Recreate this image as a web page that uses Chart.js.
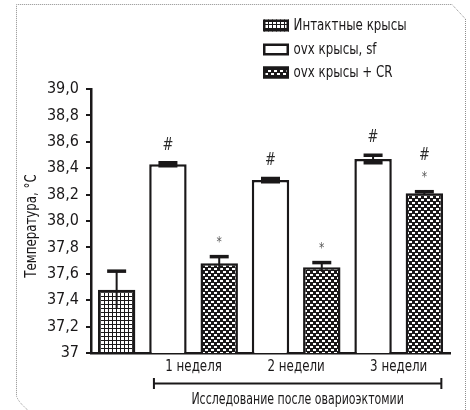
<!DOCTYPE html>
<html>
<head>
<meta charset="utf-8">
<script src="https://cdn.jsdelivr.net/npm/chart.js@4/dist/chart.umd.min.js"></script>
<style>
  html, body { margin: 0; padding: 0; background: #ffffff; }
  canvas { display: block; }
</style>
</head>
<body>
<canvas id="chart" width="470" height="410"></canvas>
<script>
// ---- data ----
const intactLabel = 'Интактные крысы';
const weekLabels = ['1 неделя', '2 недели', '3 недели'];
const seriesNames = ['Интактные крысы', 'ovx крысы, sf', 'ovx крысы + CR'];
const intactMean = [37.48];
const intactSem = [0.14];
const sfMean = [38.43, 38.31, 38.47];
const sfSem = [0.012, 0.012, 0.029];
const crMean = [37.68, 37.65, 38.21];
const crSem = [0.05, 0.035, 0.012];
const intactMarks = [[]];
const sfMarks = [['#'], ['#'], ['#']];
const crMarks = [['*'], ['*'], ['*', '#']];
const yMin = 37, yMax = 39, yStep = 0.2;
const yTitle = 'Температура, °C';
const xTitle = 'Исследование после овариоэктомии';

const INK = '#1a1819';
const FONT = "'Liberation Sans Narrow', 'Arial Narrow', 'DejaVu Sans Condensed', sans-serif";

// one slot per bar: intact first, then an sf / CR pair for every week
const slots = [intactLabel];
weekLabels.forEach(w => slots.push(w + ' sf', w + ' CR'));
function spread(vals, first, step) {
  return slots.map((_, i) => {
    const k = i - first;
    if (k < 0 || k % step !== 0) return null;
    const j = k / step;
    return j < vals.length ? vals[j] : null;
  });
}

// ---- fill patterns ----
function makePattern(w, h, paint) {
  const c = document.createElement('canvas');
  c.width = w; c.height = h;
  const g = c.getContext('2d');
  paint(g);
  return g.createPattern(c, 'repeat');
}
const gridFill = makePattern(4, 4, g => {
  g.fillStyle = INK; g.fillRect(0, 0, 4, 4);
  g.fillStyle = '#ffffff'; g.fillRect(1, 1, 3, 3);
});
const dotFill = makePattern(6, 6, g => {
  g.fillStyle = INK; g.fillRect(0, 0, 6, 6);
  g.fillStyle = '#ffffff';
  g.fillRect(1, 1, 3, 2);
  g.fillRect(4, 4, 2, 2);
  g.fillRect(0, 4, 1, 2);
});

const datasets = [
  { label: seriesNames[0], data: spread(intactMean, 0, 2), errors: spread(intactSem, 0, 2),
    marks: spread(intactMarks, 0, 2), backgroundColor: gridFill, lowerCap: false },
  { label: seriesNames[1], data: spread(sfMean, 1, 2), errors: spread(sfSem, 1, 2),
    marks: spread(sfMarks, 1, 2), backgroundColor: '#ffffff', lowerCap: true },
  { label: seriesNames[2], data: spread(crMean, 2, 2), errors: spread(crSem, 2, 2),
    marks: spread(crMarks, 2, 2), backgroundColor: dotFill, lowerCap: false }
].map(d => Object.assign(d, {
  borderColor: INK, borderWidth: 2.5, borderSkipped: 'start',
  barPercentage: 0.73, categoryPercentage: 1, grouped: false
}));

// captions are drawn horizontally narrowed to get a condensed face
function squeezedText(ctx, text, x, y, align, squeeze, angle) {
  ctx.save();
  ctx.translate(x, y);
  if (angle) ctx.rotate(angle);
  ctx.scale(squeeze, 1);
  ctx.textAlign = align;
  ctx.fillText(text, 0, 0);
  ctx.restore();
}

// dotted frame with a clipped corner
const framePlugin = {
  id: 'frame',
  beforeDraw(chart) {
    const ctx = chart.ctx;
    ctx.save();
    ctx.strokeStyle = '#8e8e8e';
    ctx.lineWidth = 1;
    ctx.setLineDash([1, 1]);
    ctx.beginPath();
    ctx.moveTo(30, 412);
    ctx.quadraticCurveTo(18, 402, 16.5, 396);
    ctx.lineTo(16.5, 4.5);
    ctx.lineTo(452, 4.5);
    ctx.lineTo(465.5, 19);
    ctx.lineTo(465.5, 412);
    ctx.stroke();
    ctx.restore();
  }
};

// error bars and significance marks above each bar
const errorPlugin = {
  id: 'errorBars',
  afterDatasetsDraw(chart) {
    const ctx = chart.ctx, y = chart.scales.y;
    ctx.save();
    chart.data.datasets.forEach((ds, di) => {
      chart.getDatasetMeta(di).data.forEach((bar, i) => {
        const v = ds.data[i];
        if (v == null) return;
        const e = ds.errors[i];
        const yt = y.getPixelForValue(v + e), yb = y.getPixelForValue(v - e);
        ctx.strokeStyle = INK;
        ctx.lineWidth = 2;
        ctx.beginPath();
        ctx.moveTo(bar.x, yt); ctx.lineTo(bar.x, yb);
        ctx.stroke();
        ctx.lineWidth = 3.5;
        ctx.beginPath();
        ctx.moveTo(bar.x - 9.5, yt); ctx.lineTo(bar.x + 9.5, yt);
        if (ds.lowerCap) { ctx.moveTo(bar.x - 9.5, yb); ctx.lineTo(bar.x + 9.5, yb); }
        ctx.stroke();
        const marks = ds.marks[i] || [];
        ctx.textBaseline = 'alphabetic';
        marks.forEach((m, k) => {
          ctx.fillStyle = m === '*' ? '#555555' : '#2b2b2b';
          ctx.font = (m === '*' ? '14px ' : '17px ') + FONT;
          const lift = (k === 0 && m === '#') ? 13 : 11;
          squeezedText(ctx, m, bar.x, yt - lift - k * 21, 'center', 0.85);
        });
      });
    });
    ctx.restore();
  }
};

// week labels, bracket, axis captions and legend
const annotatePlugin = {
  id: 'annotate',
  afterDraw(chart) {
    const ctx = chart.ctx, x = chart.scales.x, y = chart.scales.y;
    ctx.save();
    ctx.fillStyle = INK;
    ctx.textBaseline = 'middle';

    ctx.font = '16px ' + FONT;
    squeezedText(ctx, yTitle, 32, (y.top + y.bottom) / 2 + 5, 'center', 0.82, -Math.PI / 2);

    ctx.font = '16.5px ' + FONT;
    weekLabels.forEach((w, j) => {
      const cx = (x.getPixelForValue(1 + 2 * j) + x.getPixelForValue(2 + 2 * j)) / 2;
      squeezedText(ctx, w, cx, 367, 'center', 0.8);
    });
    const bl = x.getPixelForValue(1) - 14, br = x.getPixelForValue(6) + 17;
    ctx.strokeStyle = INK;
    ctx.lineWidth = 2;
    ctx.beginPath();
    ctx.moveTo(bl, 383.5); ctx.lineTo(br, 383.5);
    ctx.moveTo(bl, 378); ctx.lineTo(bl, 389);
    ctx.moveTo(br, 378); ctx.lineTo(br, 389);
    ctx.stroke();
    squeezedText(ctx, xTitle, (bl + br) / 2, 399.5, 'center', 0.74);

    // legend
    const rows = [25.5, 49.5, 72.5];
    chart.data.datasets.forEach((ds, i) => {
      const ry = rows[i];
      ctx.fillStyle = ds.backgroundColor;
      ctx.fillRect(263, ry - 6, 26, 12);
      ctx.strokeStyle = INK;
      ctx.lineWidth = 2.5;
      ctx.strokeRect(264.25, ry - 4.75, 23.5, 9.5);
      ctx.fillStyle = INK;
      squeezedText(ctx, ds.label, 293.5, ry, 'left', 0.8);
    });
    ctx.restore();
  }
};

Chart.defaults.font.family = FONT;
Chart.defaults.color = INK;

new Chart(document.getElementById('chart'), {
  type: 'bar',
  data: { labels: slots, datasets },
  options: {
    responsive: false,
    devicePixelRatio: 1,
    animation: false,
    layout: { padding: { top: 89, right: 20, bottom: 57, left: 0 } },
    plugins: { legend: { display: false }, tooltip: { enabled: false } },
    scales: {
      x: {
        type: 'category',
        offset: true,
        grid: { display: false },
        ticks: { display: false },
        border: { display: true, color: INK, width: 2.5 },
        afterFit(s) { s.height = 0; }
      },
      y: {
        min: yMin, max: yMax,
        afterFit(s) { s.width = 91; },
        ticks: {
          stepSize: yStep,
          padding: 7,
          color: INK,
          font: { size: 16 },
          callback(v) {
            const r = Math.round(v * 10) / 10;
            return r === yMin ? String(yMin) : r.toFixed(1).replace('.', ',');
          }
        },
        grid: { display: true, drawOnChartArea: false, drawTicks: true, tickLength: 5, lineWidth: 2, color: INK },
        border: { display: true, color: INK, width: 2.5 },
        title: { display: false, text: yTitle }
      }
    }
  },
  plugins: [framePlugin, errorPlugin, annotatePlugin]
});
</script>
</body>
</html>
